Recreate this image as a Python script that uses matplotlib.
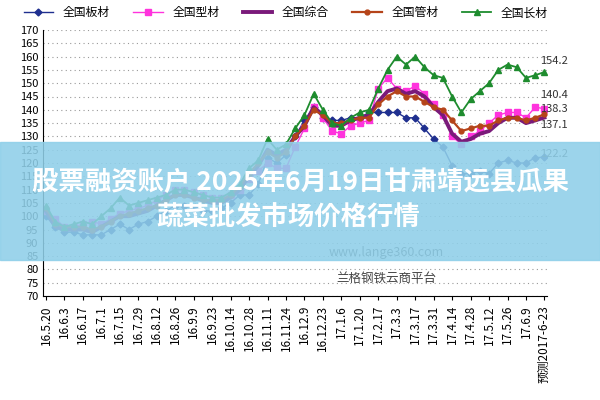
import matplotlib

matplotlib.use("Agg")
import matplotlib.pyplot as plt
from matplotlib import font_manager
from matplotlib.patches import Rectangle

cjk = sorted({f.name for f in font_manager.fontManager.ttflist if "Sans CJK" in f.name})
plt.rcParams["font.family"] = (cjk[:1] or ["Noto Sans CJK SC"]) + ["DejaVu Sans"]

TICK_LABELS = [
    "16.5.20", "16.6.3", "16.6.17", "16.7.1", "16.7.15", "16.7.29", "16.8.12",
    "16.8.26", "16.9.9", "16.9.23", "16.10.14", "16.10.28", "16.11.11", "16.11.24",
    "16.12.9", "16.12.23", "17.1.6", "17.1.20", "17.2.17", "17.3.3", "17.3.17",
    "17.3.31", "17.4.14", "17.4.28", "17.5.12", "17.5.26", "17.6.9", "预测2017-6-23",
]

plate = [100, 96, 94, 94, 93, 93, 93, 95, 97, 95, 97, 98, 100, 102, 104, 104, 103, 102,
         102, 103, 105, 108, 108, 112, 122, 120, 123, 130, 136, 141, 137, 136, 136, 137,
         137, 139, 139, 139, 139, 137, 137, 133, 129, 126, 119, 116, 116, 117, 116, 120,
         121, 120, 120, 122, 122.2]
section = [102, 99, 96, 96, 97, 98, 97, 99, 101, 102, 103, 104, 106, 108, 110, 110, 109, 108,
           107, 107, 108, 110, 114, 117, 120, 118, 118, 126, 133, 141, 137, 132, 131, 134,
           135, 136, 148, 152, 148, 147, 149, 146, 142, 138, 130, 127, 130, 132, 135, 138,
           139, 139, 137, 141, 140.4]
composite = [102, 96, 95, 95, 95, 94, 96, 98, 100, 100, 101, 102, 104, 106, 108, 108, 107, 106,
             105, 105, 107, 110, 115, 119, 125, 123, 125, 130, 134, 141, 138, 134, 134, 136,
             137, 138, 143, 147, 148, 146, 147, 145, 141, 138, 131, 128, 129, 131, 132, 135,
             137, 137, 135, 136, 137.1]
pipe = [103, 97, 96, 96, 96, 95, 96, 98, 100, 101, 102, 103, 104, 106, 108, 108, 107, 106,
        106, 106, 108, 111, 116, 120, 124, 122, 124, 130, 134, 140, 138, 135, 135, 136,
        137, 137, 142, 145, 147, 145, 145, 143, 141, 140, 136, 132, 133, 134, 134, 136,
        137, 137, 136, 137, 138.3]
long_prod = [104, 98, 96, 97, 98, 97, 100, 103, 107, 104, 105, 106, 107, 108, 110, 110, 109,
             108, 107, 107, 109, 112, 118, 121, 129, 125, 127, 133, 138, 146, 140, 135, 134,
             137, 139, 140, 148, 155, 160, 157, 160, 156, 153, 152, 145, 139, 144, 147, 150,
             155, 157, 156, 152, 153, 154.2]

series = [
    ("全国板材", plate, "#1f2f8f", "D", 1.0, 3.5),
    ("全国型材", section, "#ff33dd", "s", 1.0, 4),
    ("全国综合", composite, "#7a1a7a", None, 2.8, 0),
    ("全国管材", pipe, "#b5441a", "o", 1.6, 3.5),
    ("全国长材", long_prod, "#1e8c2e", "^", 1.3, 4.5),
]

fig = plt.figure(figsize=(6, 4), dpi=100)
ax = fig.add_axes([0.072, 0.26, 0.84, 0.665])
x = list(range(len(plate)))
for name, vals, color, marker, lw, ms in series:
    ax.plot(x, vals, color=color, marker=marker, lw=lw, ms=ms, label=name)

ax.set_ylim(70, 170)
ax.set_yticks(range(70, 171, 5))
ax.set_xlim(-0.3, len(plate) - 0.7)
ax.set_xticks(range(0, len(plate), 2))
ax.set_xticklabels(TICK_LABELS, rotation=90, fontsize=8.5)
ax.tick_params(axis="y", labelsize=8, length=0)
ax.tick_params(axis="x", length=3)
ax.grid(axis="y", ls=(0, (1, 3)), color="#999999", lw=0.8)
for side in ("top", "right"):
    ax.spines[side].set_visible(False)

for val, dy in [(long_prod[-1], 3), (section[-1], 4), (pipe[-1], 1), (composite[-1], -4), (plate[-1], 0)]:
    ax.text(len(plate) - 1.5, val + dy, f"{val:.1f}", fontsize=8, color="#333333")

ax.legend(loc="lower left", bbox_to_anchor=(-0.06, 1.0), ncol=5, frameon=False,
          fontsize=8.5, handlelength=2.5, columnspacing=2.0)

ax.text(0.68, 0.15, "www.lange360.com", transform=ax.transAxes, ha="center", fontsize=9, color="#444444")
ax.text(0.68, 0.05, "兰格钢铁云商平台", transform=ax.transAxes, ha="center", fontsize=9, color="#444444")

fig.patches.append(Rectangle((0, 0.35), 1, 0.295, transform=fig.transFigure,
                             color="#8fcfe9", alpha=0.88, zorder=5))
fig.text(0.5, 0.545, "股票融资账户 2025年6月19日甘肃靖远县瓜果", ha="center", va="center",
         fontsize=19, color="white", fontweight="bold", zorder=6)
fig.text(0.48, 0.455, "蔬菜批发市场价格行情", ha="center", va="center",
         fontsize=19, color="white", fontweight="bold", zorder=6)

fig.savefig("out.png", dpi=100)
